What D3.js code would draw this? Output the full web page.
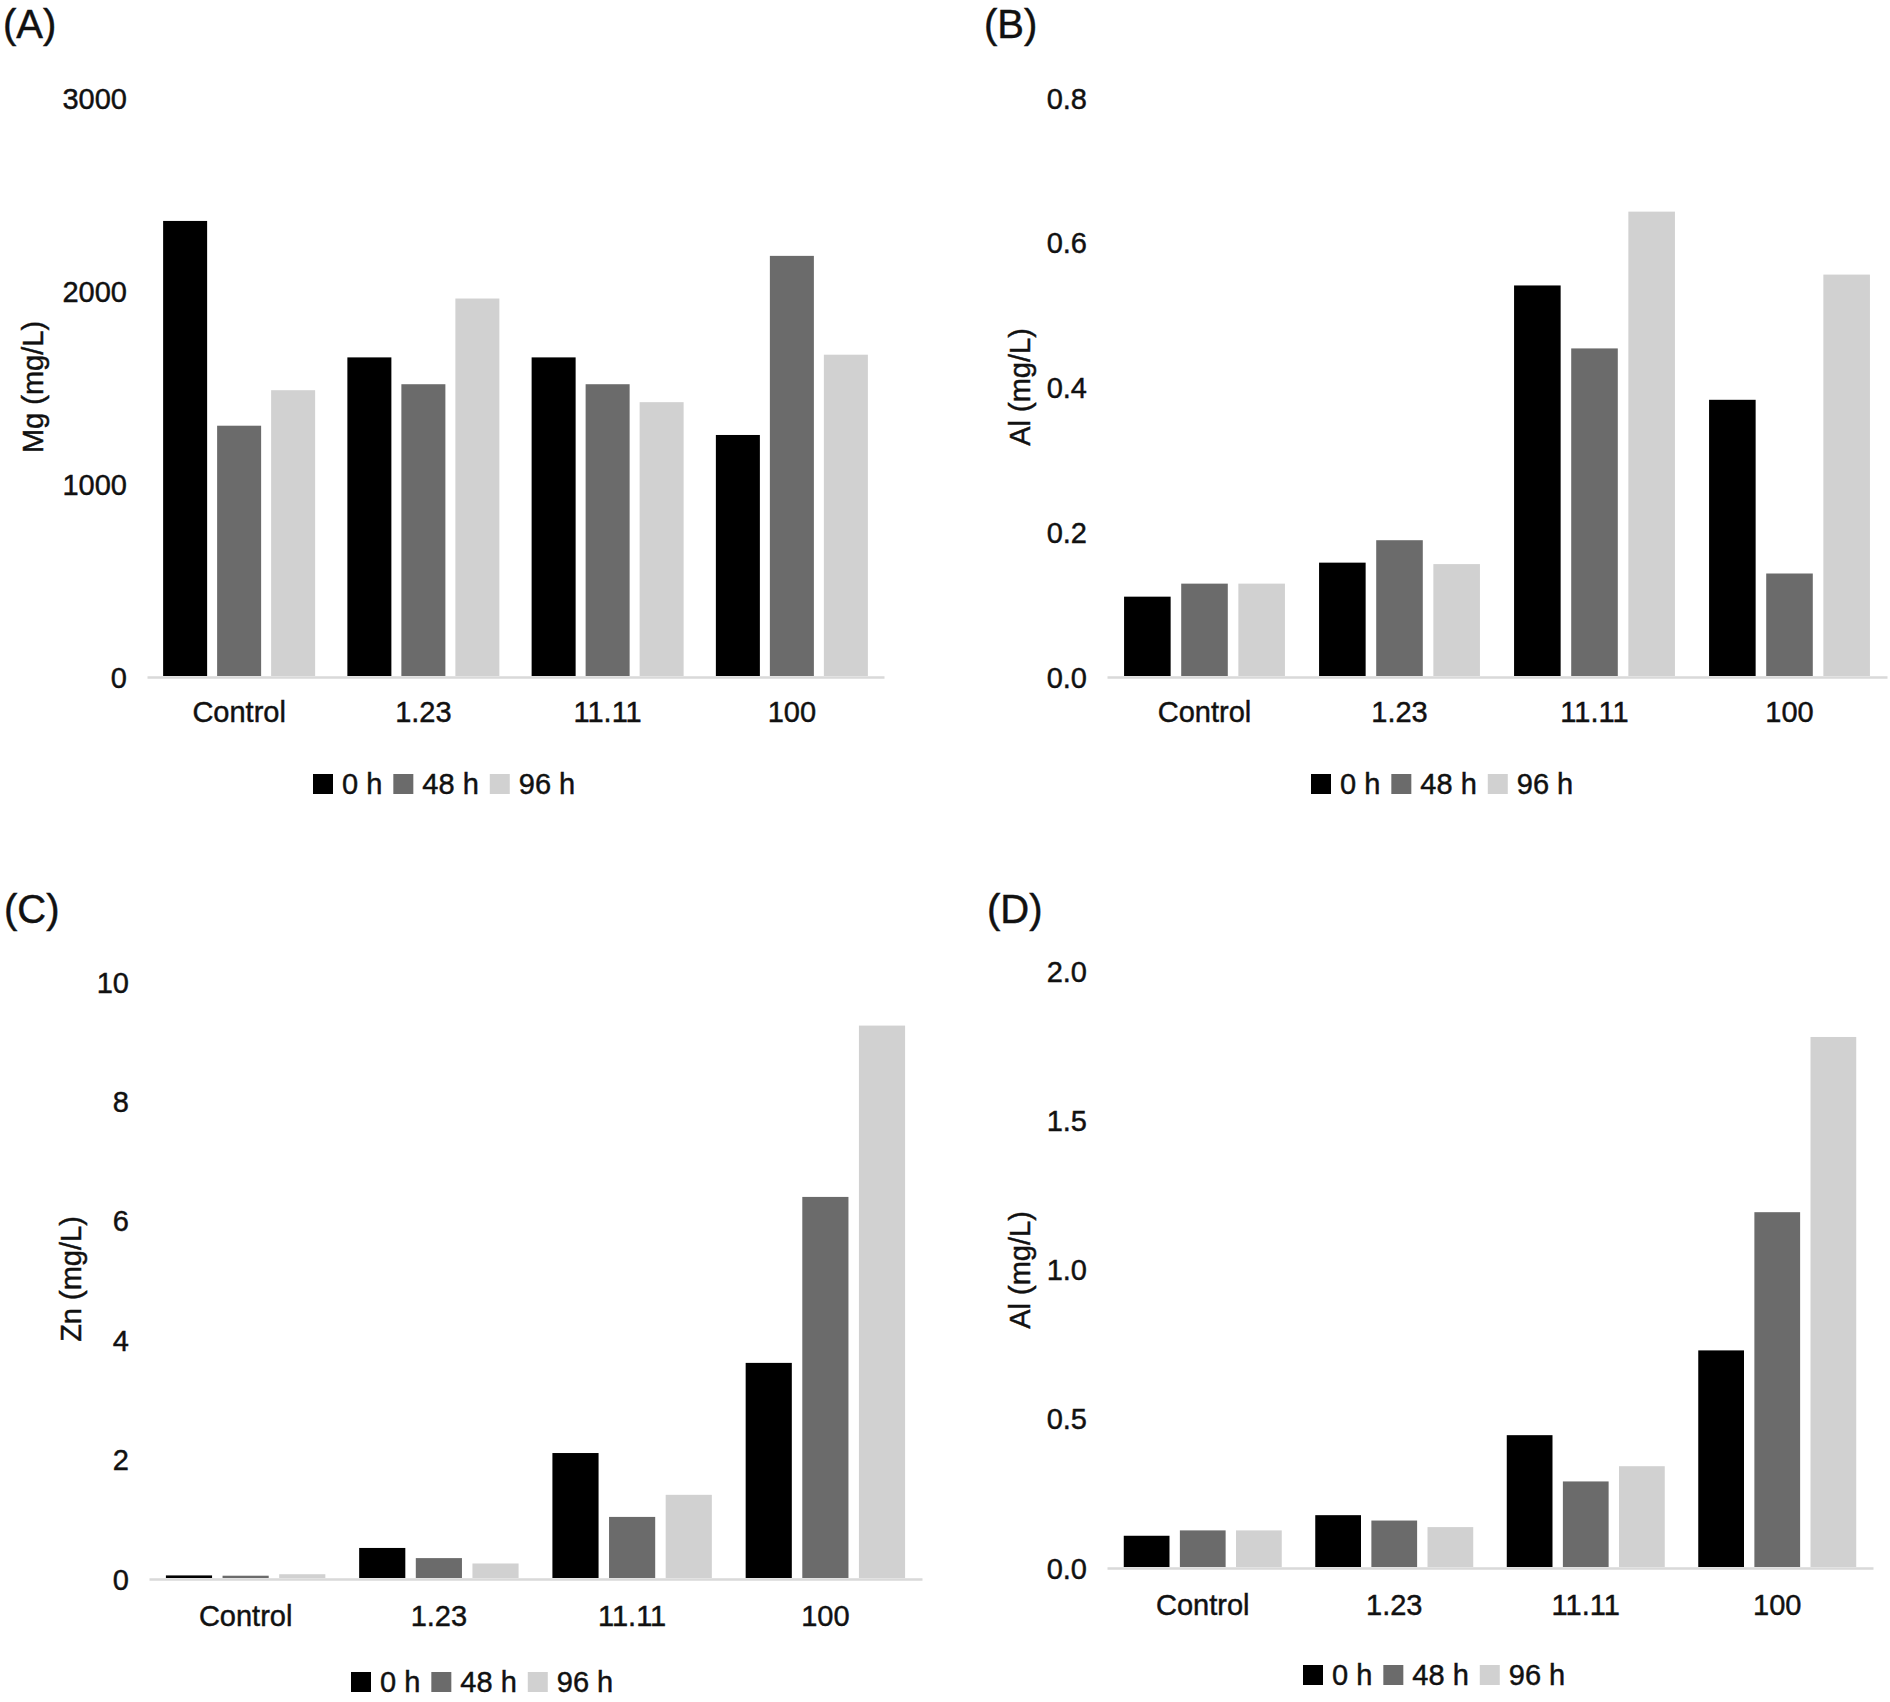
<!DOCTYPE html>
<html>
<head>
  <meta charset="utf-8">
  <script src="https://d3js.org/d3.v7.min.js"></script>
  <style>
    body { margin: 0; background: #fff; }
    text { font-family: "Liberation Sans", Arial, Helvetica, sans-serif; fill: #111; stroke: #111; stroke-width: 0.45px; }
  </style>
</head>
<body>
<script>
  // concentrations, one row per sampling time, one column per category
  var categories = ["Control", "1.23", "11.11", "100"];
  var times = ["0 h", "48 h", "96 h"];
  var timeColors = ["#000000", "#6b6b6b", "#d1d1d1"];

  var mgValues = [
    [2363, 1656, 1656, 1254],
    [1302, 1517, 1517, 2182],
    [1486, 1961, 1424, 1670]
  ];
  var alValuesB = [
    [0.111, 0.158, 0.541, 0.383],
    [0.129, 0.189, 0.454, 0.143],
    [0.129, 0.156, 0.643, 0.556]
  ];
  var znValues = [
    [0.06, 0.52, 2.11, 3.62],
    [0.055, 0.35, 1.04, 6.40],
    [0.08, 0.26, 1.41, 9.27]
  ];
  var alValuesD = [
    [0.108, 0.177, 0.445, 0.729],
    [0.126, 0.159, 0.290, 1.192],
    [0.126, 0.137, 0.341, 1.779]
  ];

  var mgTicks = [0, 1000, 2000, 3000];
  var alTicksB = [0, 0.2, 0.4, 0.6, 0.8];
  var znTicks = [0, 2, 4, 6, 8, 10];
  var alTicksD = [0, 0.5, 1.0, 1.5, 2.0];

  var W = 1890, H = 1702;
  var svg = d3.select("body").append("svg")
      .attr("width", W).attr("height", H);

  // layout of the four panels
  var panels = [
    { label: "(A)", lx: 3, ly: 38, values: mgValues, ticks: mgTicks, fmt: d3.format("d"),
      title: "Mg (mg/L)", tx: 33, ty: 387,
      x0: 147, x1: 884, top: 98, base: 677, catY: 712, legX: 313, legY: 784 },
    { label: "(B)", lx: 984, ly: 38, values: alValuesB, ticks: alTicksB, fmt: d3.format(".1f"),
      title: "Al (mg/L)", tx: 1020, ty: 387,
      x0: 1107, x1: 1887, top: 98, base: 677, catY: 712, legX: 1311, legY: 784 },
    { label: "(C)", lx: 4, ly: 923, values: znValues, ticks: znTicks, fmt: d3.format("d"),
      title: "Zn (mg/L)", tx: 71, ty: 1279,
      x0: 149, x1: 922, top: 982, base: 1579, catY: 1616, legX: 351, legY: 1682 },
    { label: "(D)", lx: 987, ly: 923, values: alValuesD, ticks: alTicksD, fmt: d3.format(".1f"),
      title: "Al (mg/L)", tx: 1020, ty: 1270,
      x0: 1107, x1: 1873, top: 971, base: 1568, catY: 1605, legX: 1303, legY: 1675 }
  ];

  panels.forEach(function (p) {
    var g = svg.append("g");

    var x = d3.scaleBand().domain(categories).range([p.x0, p.x1])
        .paddingInner(0.175).paddingOuter(0.0875);
    var xs = d3.scaleBand().domain(times).range([0, x.bandwidth()])
        .paddingInner(0.185).paddingOuter(0);
    var y = d3.scaleLinear().domain([0, p.ticks[p.ticks.length - 1]])
        .range([p.base, p.top]);

    // panel letter
    g.append("text").attr("x", p.lx).attr("y", p.ly)
      .style("font-size", "40px").text(p.label);

    // y axis labels only
    var ya = g.append("g").attr("transform", "translate(" + p.x0 + ",0)")
      .call(d3.axisLeft(y).tickValues(p.ticks).tickFormat(p.fmt).tickSize(0).tickPadding(20));
    ya.select(".domain").remove();
    ya.selectAll("text").style("font-size", "29px").attr("dy", "0.35em");

    // baseline
    var xa = g.append("g").attr("transform", "translate(0," + p.base + ")")
      .call(d3.axisBottom(x).tickSize(0));
    xa.select(".domain").attr("stroke", "#d9d9d9").attr("stroke-width", 2.5);
    xa.selectAll("text").style("font-size", "29px")
      .attr("y", p.catY - p.base).attr("dy", "0.35em");

    // bars
    times.forEach(function (t, si) {
      g.append("g").selectAll("rect")
        .data(categories.map(function (c, ci) { return { c: c, v: p.values[si][ci] }; }))
        .join("rect")
          .attr("x", function (d) { return x(d.c) + xs(t); })
          .attr("width", xs.bandwidth())
          .attr("y", function (d) { return y(d.v); })
          .attr("height", function (d) { return p.base - 1 - y(d.v); })
          .attr("fill", timeColors[si]);
    });

    // y title
    g.append("text")
      .attr("transform", "translate(" + p.tx + "," + p.ty + ") rotate(-90)")
      .attr("text-anchor", "middle").attr("dy", "0.35em")
      .style("font-size", "29px").text(p.title);

    // legend
    var lx = p.legX;
    times.forEach(function (t, si) {
      g.append("rect").attr("x", lx).attr("y", p.legY - 10)
        .attr("width", 20).attr("height", 20).attr("fill", timeColors[si]);
      var tt = g.append("text").attr("x", lx + 29).attr("y", p.legY)
        .attr("dy", "0.35em").style("font-size", "29px").text(t);
      lx += 29 + tt.node().getComputedTextLength() + 11;
    });
  });
</script>
</body>
</html>
